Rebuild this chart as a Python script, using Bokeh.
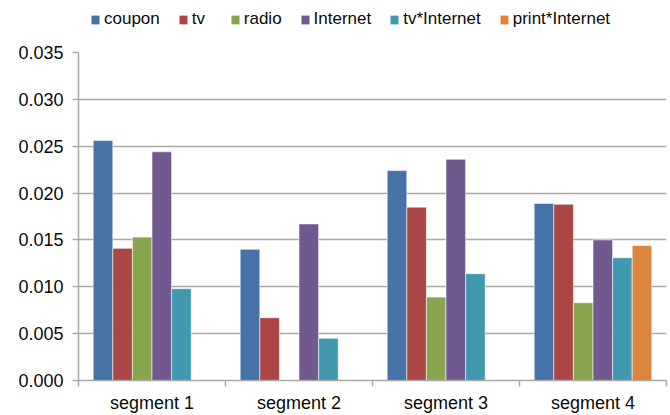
from bokeh.plotting import figure
from bokeh.layouts import column
from bokeh.models import (ColumnDataSource, Range1d, FixedTicker, NumeralTickFormatter,
                          Legend, LegendItem)
from bokeh.embed import file_html
from bokeh.resources import INLINE

# Segments and series shown in the chart
segments = ["segment 1", "segment 2", "segment 3", "segment 4"]
series = ["coupon", "tv", "radio", "Internet", "tv*Internet", "print*Internet"]
colors = ["#4572A7", "#AA4643", "#89A54E", "#71588F", "#4198AF", "#DB843D"]

# Values per series (None = not present in that segment)
coupon = [0.0256, 0.0140, 0.0224, 0.0189]
tv = [0.0141, 0.0067, 0.0185, 0.0188]
radio = [0.0153, None, 0.0089, 0.0083]
internet = [0.0244, 0.0167, 0.0236, 0.0150]
tv_internet = [0.0098, 0.0045, 0.0114, 0.0131]
print_internet = [None, None, None, 0.0144]

values = [coupon, tv, radio, internet, tv_internet, print_internet]

y_ticks = [0.0, 0.005, 0.010, 0.015, 0.020, 0.025, 0.030, 0.035]

FONT = "Liberation Sans"
GRID = "#a9a9a9"
TEXT = "#0a0a0a"
BAR_LINE = dict(line_color="white", line_alpha=0.55, line_width=1)

# ---- main bar chart ----
p = figure(width=670, height=375, output_backend="svg", toolbar_location=None,
           x_range=Range1d(0, len(segments)), y_range=Range1d(0, 0.035),
           min_border_left=78, min_border_right=4, min_border_top=12,
           min_border_bottom=34)
p.outline_line_color = None

group_w = 0.8
n = len(series)
bar_w = group_w / n

for j, (name, vals, col) in enumerate(zip(series, values, colors)):
    xs, ys = [], []
    for i, v in enumerate(vals):
        if v is None:
            continue
        xs.append(i + (1 - group_w) / 2 + (j + 0.5) * bar_w)
        ys.append(v)
    src = ColumnDataSource(dict(x=xs, top=ys))
    p.vbar(x="x", top="top", width=bar_w, bottom=0, source=src,
           fill_color=col, **BAR_LINE)

# x axis: labels at segment centres, tick marks at segment boundaries
p.xaxis.ticker = FixedTicker(ticks=[i + 0.5 for i in range(len(segments))],
                             minor_ticks=list(range(len(segments) + 1)))
p.xaxis.major_label_overrides = {i + 0.5: s for i, s in enumerate(segments)}
p.xaxis.major_tick_line_color = None
p.xaxis.minor_tick_line_color = GRID
p.xaxis.minor_tick_line_width = 1.5
p.xaxis.minor_tick_out = 6
p.xaxis.minor_tick_in = 0
p.xaxis.axis_line_color = GRID
p.xaxis.axis_line_width = 1.5
p.xaxis.major_label_text_font = FONT
p.xaxis.major_label_text_font_size = "18px"
p.xaxis.major_label_text_color = TEXT
p.xaxis.major_label_standoff = 6
p.xgrid.grid_line_color = None

# y axis
p.yaxis.ticker = FixedTicker(ticks=y_ticks)
p.yaxis.formatter = NumeralTickFormatter(format="0.000")
p.yaxis.axis_line_color = GRID
p.yaxis.axis_line_width = 1.5
p.yaxis.major_tick_line_color = GRID
p.yaxis.major_tick_line_width = 1.5
p.yaxis.major_tick_out = 6
p.yaxis.major_tick_in = 0
p.yaxis.minor_tick_line_color = None
p.yaxis.major_label_text_font = FONT
p.yaxis.major_label_text_font_size = "18px"
p.yaxis.major_label_text_color = TEXT
p.yaxis.major_label_standoff = 9
p.ygrid.grid_line_color = GRID
p.ygrid.grid_line_width = 1.5

# ---- legend strip above the chart (no axes of its own) ----
lg = figure(width=670, height=40, output_backend="svg", toolbar_location=None,
            x_range=Range1d(0, 1), y_range=Range1d(0, 1),
            x_axis_type=None, y_axis_type=None,
            min_border=0, min_border_left=0, min_border_right=0,
            min_border_top=0, min_border_bottom=0)
lg.outline_line_color = None
lg.grid.grid_line_color = None

items = []
for name, col in zip(series, colors):
    # zero-height swatch renderer, only used for the legend key
    r = lg.vbar(x=[-10], top=[0], bottom=0, width=1, fill_color=col,
                line_color=None)
    items.append(LegendItem(label=name, renderers=[r]))

legend = Legend(items=items, orientation="horizontal", location=(12, 11),
                glyph_width=10, glyph_height=11, label_standoff=4, spacing=18,
                padding=0, margin=0, border_line_color=None,
                background_fill_alpha=0, label_text_font=FONT,
                label_text_font_size="17px", label_text_color=TEXT,
                label_height=20)
lg.add_layout(legend, "center")

layout = column(lg, p, spacing=0)
open("out.html", "w").write(file_html(layout, INLINE))
